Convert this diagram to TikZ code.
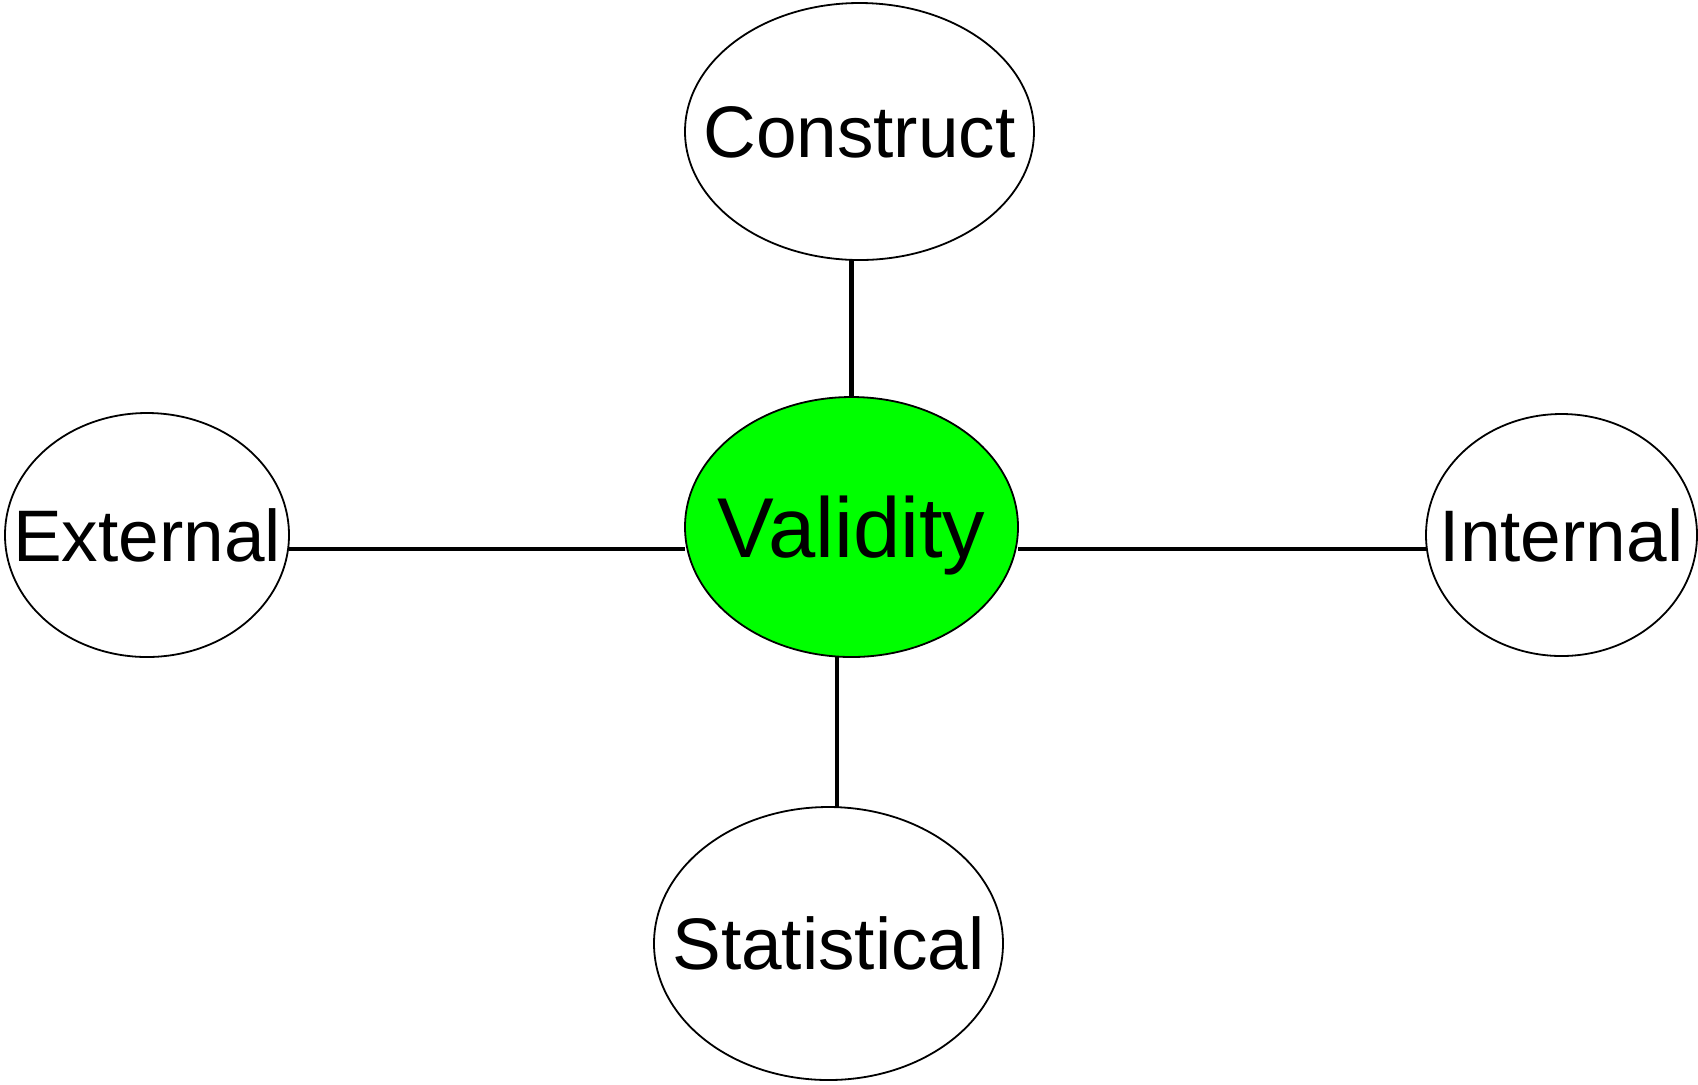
\documentclass[tikz,border=0pt]{standalone}
\usepackage{fontspec}
\setmainfont{Liberation Sans}
\usetikzlibrary{shapes.geometric}
\definecolor{vgreen}{RGB}{0,255,0}
\newcommand{\zw}[1]{\makebox[0pt][c]{#1}}
\begin{document}
\begin{tikzpicture}[x=0.5pt,y=-0.5pt,
  oval/.style={draw=black,line width=0.9pt,ellipse,inner sep=0pt,outer sep=0pt,fill=white,
    font=\fontsize{36.5pt}{40pt}\selectfont,text height=26.1pt,text depth=0pt},
  link/.style={draw=black,line width=2.1pt}]
\useasboundingbox (0,0) rectangle (1698,1084);
\node[oval,minimum width=174.5pt,minimum height=128.5pt] (C) at (859.5,131.5) {\zw{Construct}};
\node[oval,minimum width=142pt,minimum height=122pt] (E) at (147,535) {\zw{External}};
\node[oval,minimum width=135.5pt,minimum height=121pt] (I) at (1561.5,535) {\zw{Internal}};
\node[oval,minimum width=174.5pt,minimum height=136.5pt] (S) at (828.5,943.5) {\zw{Statistical}};
\node[oval,fill=vgreen,minimum width=166.5pt,minimum height=130pt,
  font=\fontsize{42.5pt}{46pt}\selectfont,text height=30.4pt] (V) at (851.5,527) {\zw{Validity}};
\draw[link] (V.north) -- (V.north |- C.south);
\draw[link] (V.south -| 837,0) -- (S.north -| 837,0);
\draw[link] (E.east |- 0,549) -- (V.west |- 0,549);
\draw[link] (V.east |- 0,549) -- (I.west |- 0,549);
\end{tikzpicture}
\end{document}
